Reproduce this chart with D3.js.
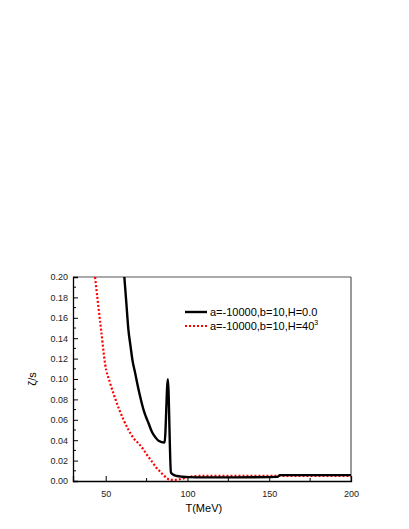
<!DOCTYPE html>
<meta charset="utf-8">
<title>zeta/s vs T</title>
<script src="https://d3js.org/d3.v7.min.js"></script>
<style>
  body { margin: 0; background: #fff; }
  text { font-family: "Liberation Sans", Arial, sans-serif; }
</style>
<body>
<div id="chart"></div>
<script>
// black solid curve: H = 0.0
var tBlack = [61.4, 62.6, 63.9, 65.2, 66.4, 68.0, 69.1, 70.6, 72.1, 73.1, 74.6, 76.2, 78.3, 80.3, 82.3, 86.0, 88.0, 89.9, 91.5, 93.6, 97.0, 100.7, 110, 130, 150, 155, 156.5, 170, 200];
var zBlack = [0.200, 0.175, 0.148, 0.132, 0.118, 0.106, 0.097, 0.086, 0.076, 0.070, 0.063, 0.0566, 0.0480, 0.0430, 0.0395, 0.0376, 0.0997, 0.0082, 0.0060, 0.0049, 0.0042, 0.0038, 0.0036, 0.0036, 0.0038, 0.0040, 0.0058, 0.0058, 0.0058];

// red dotted curve: H = 40^3
var tRed = [43.5, 45.3, 47.2, 49.6, 52.7, 56.2, 60.9, 64.0, 67.0, 70.0, 73.0, 75.5, 78.3, 81.0, 83.4, 85.5, 87.5, 89.5, 91.5, 94.5, 97.7, 100.7, 108, 130, 160, 200];
var zRed = [0.200, 0.174, 0.148, 0.115, 0.096, 0.079, 0.060, 0.050, 0.042, 0.037, 0.031, 0.025, 0.019, 0.013, 0.0091, 0.0055, 0.0026, 0.0012, 0.0010, 0.0015, 0.0026, 0.0040, 0.0050, 0.0050, 0.0050, 0.0050];

var xTicks = [50, 100, 150, 200];
var xMinor = [75, 125, 175];
var yTicks = [0, 0.02, 0.04, 0.06, 0.08, 0.10, 0.12, 0.14, 0.16, 0.18, 0.20];
var yMinor = [0.01, 0.03, 0.05, 0.07, 0.09, 0.11, 0.13, 0.15, 0.17, 0.19];

var legendLabels = ["a=-10000,b=10,H=0.0", "a=-10000,b=10,H=40"];

var margin = { top: 277, right: 58, bottom: 48, left: 73 },
    width = 409 - margin.left - margin.right,
    height = 529 - margin.top - margin.bottom;

var svg = d3.select("#chart")
    .append("svg")
    .attr("width", 409)
    .attr("height", 529)
    .append("g")
    .attr("transform", "translate(" + margin.left + "," + margin.top + ")");

var x = d3.scaleLinear().domain([30, 200]).range([0, width]);
var y = d3.scaleLinear().domain([0, 0.2]).range([height, 0]);

svg.append("defs").append("clipPath").attr("id", "clip")
    .append("rect").attr("width", width).attr("height", height);

// frame: top and right in grey
svg.append("line").attr("x1", 0).attr("x2", width).attr("y1", 0).attr("y2", 0)
    .attr("stroke", "#555").attr("stroke-width", 1.2);
svg.append("line").attr("x1", width).attr("x2", width).attr("y1", 0).attr("y2", height)
    .attr("stroke", "#555").attr("stroke-width", 1.2);

// x axis, ticks pointing inward
var gx = svg.append("g")
    .attr("transform", "translate(0," + height + ")")
    .call(d3.axisBottom(x).tickValues(xTicks).tickSize(-5).tickPadding(10).tickFormat(d3.format("d")));
gx.append("g").selectAll("line").data(xMinor).enter().append("line")
    .attr("x1", function (d) { return x(d); }).attr("x2", function (d) { return x(d); })
    .attr("y1", 0).attr("y2", -3).attr("stroke", "#000");

// y axis, ticks pointing inward
var gy = svg.append("g")
    .call(d3.axisLeft(y).tickValues(yTicks).tickSize(-5).tickPadding(5).tickFormat(d3.format(".2f")));
gy.append("g").selectAll("line").data(yMinor).enter().append("line")
    .attr("y1", function (d) { return y(d); }).attr("y2", function (d) { return y(d); })
    .attr("x1", 0).attr("x2", 3).attr("stroke", "#000");

[gx, gy].forEach(function (g) {
    g.select(".domain").attr("stroke", "#000").attr("stroke-width", 1.3);
    g.selectAll("text").attr("font-size", 9).attr("fill", "#222")
        .style("font-family", "'Liberation Sans', Arial, sans-serif");
});

// axis titles
svg.append("text")
    .attr("x", x(110)).attr("y", height + 31)
    .attr("text-anchor", "middle").attr("font-size", 11)
    .text("T(MeV)");
svg.append("text")
    .attr("transform", "translate(" + (-37) + "," + y(0.1) + ") rotate(-90)")
    .attr("text-anchor", "middle").attr("font-size", 11)
    .text("ζ/s");

var line = d3.line()
    .curve(d3.curveMonotoneX)
    .x(function (d) { return x(d[0]); })
    .y(function (d) { return y(d[1]); });

svg.append("path")
    .datum(d3.zip(tRed, zRed))
    .attr("clip-path", "url(#clip)")
    .attr("fill", "none").attr("stroke", "#ff0000")
    .attr("stroke-width", 2.2).attr("stroke-dasharray", "2,2")
    .attr("d", line);

svg.append("path")
    .datum(d3.zip(tBlack, zBlack))
    .attr("clip-path", "url(#clip)")
    .attr("fill", "none").attr("stroke", "#000")
    .attr("stroke-width", 2.4).attr("stroke-linejoin", "round")
    .attr("d", line);

// legend
var lg = svg.append("g").attr("transform", "translate(112,35)");
lg.append("line").attr("x1", 0).attr("x2", 22).attr("y1", 0).attr("y2", 0)
    .attr("stroke", "#000").attr("stroke-width", 2.4);
lg.append("line").attr("x1", 0).attr("x2", 22).attr("y1", 14).attr("y2", 14)
    .attr("stroke", "#ff0000").attr("stroke-width", 2.2).attr("stroke-dasharray", "2,2");
lg.append("text").attr("x", 25).attr("y", 4).attr("font-size", 11).text(legendLabels[0]);
var t2 = lg.append("text").attr("x", 25).attr("y", 18).attr("font-size", 11).text(legendLabels[1]);
t2.append("tspan").attr("font-size", 7).attr("dy", -5).text("3");
</script>
</body>
